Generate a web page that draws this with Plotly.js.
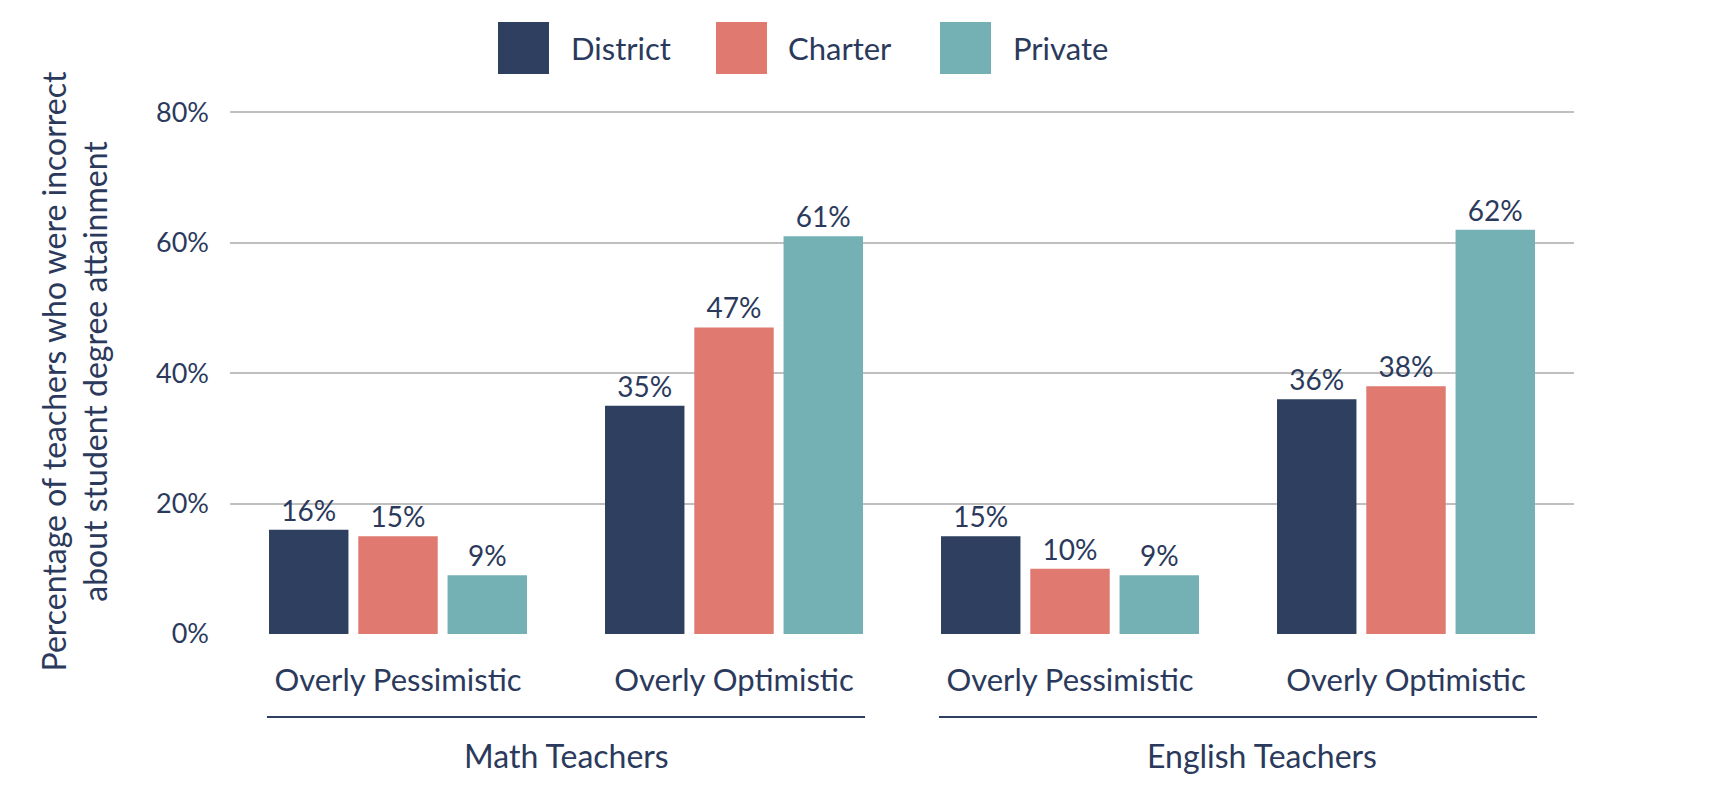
<!DOCTYPE html>
<html><head><meta charset="utf-8">
<script src="https://cdn.plot.ly/plotly-3.0.1.min.js"></script>
<style>html,body{margin:0;padding:0;background:#fff}#chart{width:1716px;height:812px}</style>
</head><body><div id="chart"></div>
<script>
const categories = ["Overly Pessimistic", "Overly Optimistic", "Overly Pessimistic", "Overly Optimistic"];
const groups = ["Math Teachers", "English Teachers"];
const seriesNames = ["District", "Charter", "Private"];
const district = [16, 35, 15, 36];
const charter = [15, 47, 10, 38];
const privateVals = [9, 61, 9, 62];
const yTicks = [0, 20, 40, 60, 80];
const yTickText = ["0%", "20%", "40%", "60%", "80%"];
const colors = ["#2E3F60", "#E07970", "#74B1B5"];
const textColor = "#2B3A5C";
const FONT = "Lato, 'Open Sans', sans-serif";

const xIdx = categories.map((_, i) => i);
const values = [district, charter, privateVals];
const traces = values.map((v, k) => ({
  type: "bar", name: seriesNames[k], x: xIdx, y: v,
  marker: {color: colors[k]},
  text: v.map(d => d + "%"), textposition: "outside", cliponaxis: false,
  textfont: {family: FONT, size: 28, color: textColor},
  hoverinfo: "skip", showlegend: false
}));

// plot area in pixels
const L = 230, R = 1574, T = 109, B = 634;
const px = x => (x - L) / (R - L);
const py = y => (B - y) / (B - T);

const shapes = [];
const annotations = [];
// legend
const legX = [[498, 569], [716, 786], [940, 1011]];
seriesNames.forEach((n, k) => {
  shapes.push({type: "rect", xref: "paper", yref: "paper", x0: px(legX[k][0]), x1: px(legX[k][0] + 51), y0: py(22), y1: py(74), fillcolor: colors[k], line: {width: 0}});
  annotations.push({xref: "paper", yref: "paper", x: px(legX[k][1]), y: py(48), xanchor: "left", yanchor: "middle", text: n, showarrow: false, font: {family: FONT, size: 31, color: textColor}});
});
// group lines and labels
const groupSpan = [[-0.39, 1.39], [1.61, 3.39]];
const groupLabelX = [0.5, 2.57];
groups.forEach((g, j) => {
  shapes.push({type: "line", xref: "x", yref: "paper", x0: groupSpan[j][0], x1: groupSpan[j][1], y0: py(717), y1: py(717), line: {color: "#2E3F60", width: 2}});
  annotations.push({xref: "x", yref: "paper", x: groupLabelX[j], y: py(755), xanchor: "center", yanchor: "middle", text: g, showarrow: false, font: {family: FONT, size: 32, color: textColor}});
});

const layout = {
  width: 1716, height: 812,
  margin: {l: L, r: 1716 - R, t: T, b: 812 - B},
  paper_bgcolor: "#fff", plot_bgcolor: "#fff",
  barmode: "group", bargap: 0.203, bargroupgap: 0.11,
  showlegend: false,
  font: {family: FONT, color: textColor},
  xaxis: {
    range: [-0.5, 3.5], tickmode: "array", tickvals: xIdx, ticktext: categories,
    showgrid: false, zeroline: false, showline: false, ticks: "",
    tickfont: {family: FONT, size: 31, color: textColor}, ticklabelstandoff: 25
  },
  yaxis: {
    range: [0, 80.5], tickmode: "array", tickvals: yTicks, ticktext: yTickText,
    showgrid: true, gridcolor: "#BFBFBF", gridwidth: 2, zeroline: false, showline: false,
    tickfont: {family: FONT, size: 27, color: textColor}, ticklabelstandoff: 20,
    title: {text: "Percentage of teachers who were incorrect<br>about student degree attainment", font: {family: FONT, size: 32, color: textColor}, standoff: 38},
    automargin: false
  },
  shapes, annotations
};
Plotly.newPlot("chart", traces, layout, {displayModeBar: false, staticPlot: true});
</script></body></html>
